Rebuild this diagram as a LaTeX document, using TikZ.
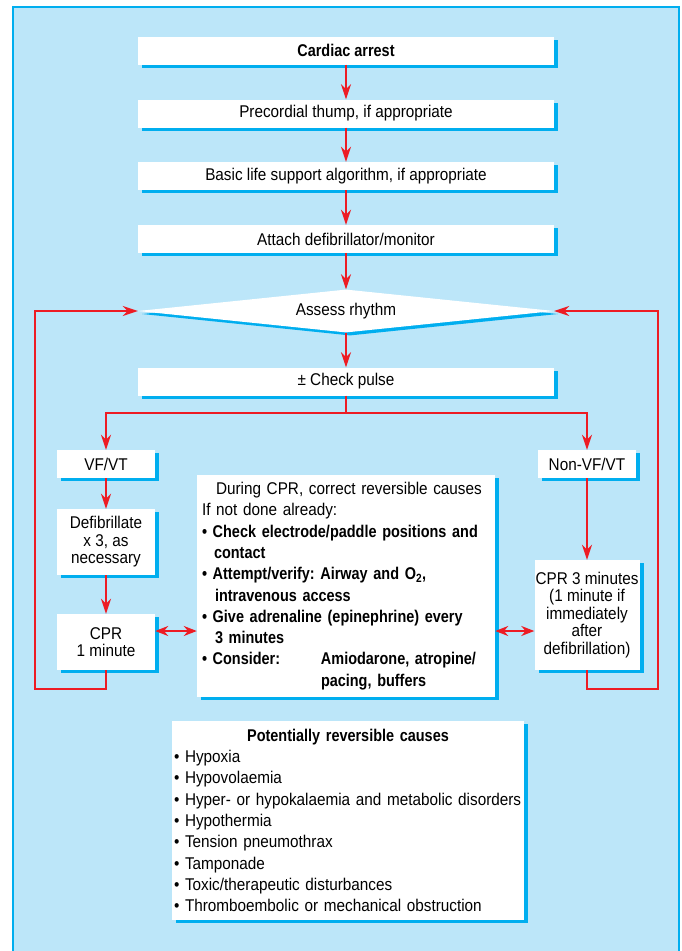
\documentclass[tikz,border=0pt]{standalone}
\usepackage{fontspec}
\setmainfont{Liberation Sans}[FakeStretch=0.9, BoldFeatures={FakeStretch=0.85}]
\usepackage{xcolor}
\usepackage{tikz}
\usetikzlibrary{shapes.geometric}
\usetikzlibrary{shadows}
\usetikzlibrary{arrows.meta}

\definecolor{panelblue}{RGB}{188,230,249}
\definecolor{edgecyan}{RGB}{0,174,239}
\definecolor{arrowred}{RGB}{237,28,36}

\begin{document}
\frenchspacing
\begin{tikzpicture}[x=1pt, y=-1pt,
    box/.style={fill=white, inner sep=2pt, align=center,
        font=\fontsize{17}{17.5}\selectfont,
        drop shadow={shadow xshift=4pt, shadow yshift=-3pt, fill=edgecyan, opacity=1}},
    wide/.style={box, minimum width=416pt, minimum height=28pt},
    side/.style={box, minimum width=98pt},
    listbox/.style={box, align=left, inner xsep=5pt,
        font=\fontsize{17}{21.3}\selectfont,
        execute at begin node=\hyphenpenalty10000\relax},
    decision/.style={box, diamond, aspect=10, minimum width=416pt, minimum height=43pt, inner sep=0pt},
    flow/.style={draw=arrowred, line width=2pt, -{Stealth[length=15pt, width=10pt]}},
    both/.style={flow, {Stealth[length=13pt, width=10pt]}-{Stealth[length=13pt, width=10pt]}}
  ]
    \useasboundingbox (0,0) rectangle (681,951);
    \fill[panelblue] (13,7) rectangle (679,951);
    \draw[edgecyan, line width=1.5pt] (13,951) |- (679,7) -- (679,951);

    \node (card) [wide] at (346,50.5) {\textbf{Cardiac arrest}};
    \node (prec) [wide] at (346,113.5) {Precordial thump, if appropriate};
    \node (bls) [wide] at (346,176) {Basic life support algorithm, if appropriate};
    \node (attach) [wide] at (346,239) {Attach defibrillator/monitor};
    \node (assess) [decision] at (346,311) {Assess rhythm};
    \node (pulse) [wide] at (346,381.5) {± Check pulse};
    \coordinate (split) at (346,413);

    \node (vf) [side, minimum height=28pt] at (106,464) {VF/VT};
    \node (defib) [side, minimum height=66pt] at (106,542) {Defibrillate\\x 3, as\\necessary};
    \node (cpr1) [side, minimum height=56pt] at (106,642) {CPR\\1 minute};

    \node (nonvf) [side, minimum height=28pt] at (587,464) {Non-VF/VT};
    \node (cpr3) [side, minimum width=105pt, inner xsep=1pt, minimum height=110pt] at (587,615)
        {CPR 3 minutes\\(1 minute if\\immediately\\after\\defibrillation)};

    \node (during) [listbox, text width=288pt, minimum height=222pt] at (346,586) {%
        \hspace*{14pt}During CPR, correct reversible causes\\
        If not done already:\\
        \textbf{• Check electrode/paddle positions and}\\
        \hspace*{12pt}\textbf{contact}\\
        \textbf{• Attempt/verify: Airway and O\textsubscript{2},}\\
        \hspace*{13pt}\textbf{intravenous access}\\
        \textbf{• Give adrenaline (epinephrine) every}\\
        \hspace*{13pt}\textbf{3 minutes}\\
        \makebox[119pt][l]{\textbf{• Consider:}}\textbf{Amiodarone, atropine/}\\
        \hspace*{119pt}\textbf{pacing, buffers}};

    \node (causes) [listbox, inner xsep=2pt, text width=348pt, minimum height=199pt] at (348,820.5) {%
        \centerline{\textbf{Potentially reversible causes}}
        • Hypoxia\\
        • Hypovolaemia\\
        • Hyper- or hypokalaemia and metabolic disorders\\
        • Hypothermia\\
        • Tension pneumothrax\\
        • Tamponade\\
        • Toxic/therapeutic disturbances\\
        • Thromboembolic or mechanical obstruction};

    \path [every edge/.style={flow}]
        (card) edge (prec)
        (prec) edge (bls)
        (bls) edge (attach)
        (attach) edge (assess)
        (assess) edge (pulse)
        (vf) edge (defib)
        (defib) edge (cpr1)
        (nonvf) edge (cpr3);
    \draw [flow, -] (pulse) -- (split);
    \draw [flow] (split) -| (vf);
    \draw [flow] (split) -| (nonvf);

    % loops back to the rhythm check
    \draw [flow] (cpr1.south) -- ++(0,19) -| ([xshift=-103pt]assess.west) -- (assess.west);
    \draw [flow] (cpr3.south) -- ++(0,19) -| ([xshift=104pt]assess.east) -- (assess.east);

    \draw [both] ([yshift=11pt]cpr1.east) -- ([yshift=11pt]cpr1.east -| during.west);
    \draw [both] ([yshift=11pt]cpr1.east -| during.east) -- ([yshift=11pt]cpr1.east -| cpr3.west);
\end{tikzpicture}
\end{document}
